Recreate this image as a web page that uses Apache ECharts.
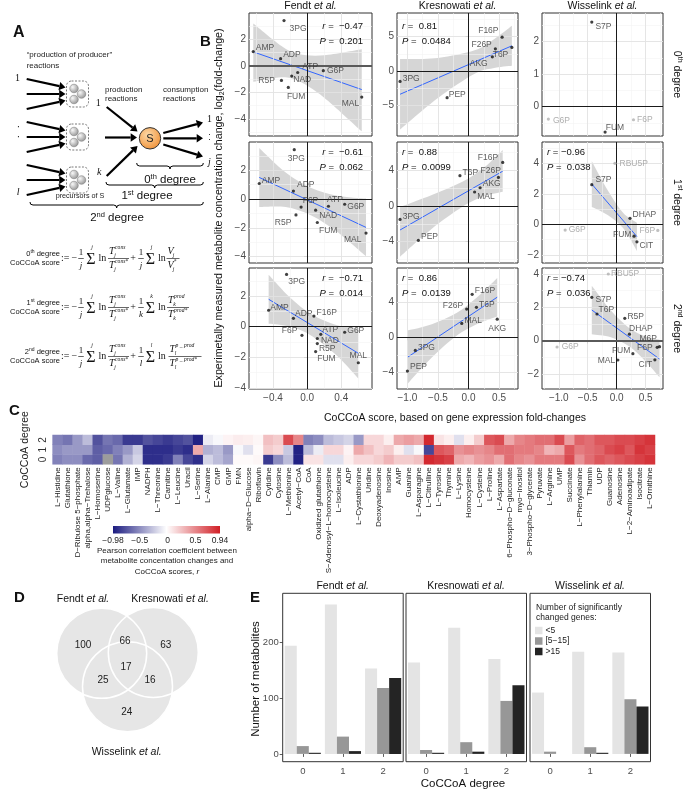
<!DOCTYPE html>
<html><head><meta charset="utf-8">
<script src="https://cdn.jsdelivr.net/npm/echarts@6/dist/echarts.min.js"></script>
<style>html,body{margin:0;padding:0;background:#fff}#c{width:683px;height:793px}</style>
</head><body><div id="c"></div>
<script>
const FONT='"Liberation Sans", Arial, Helvetica, sans-serif';
const SERIF='"Liberation Serif", "DejaVu Serif", serif';

// ---------------- Panel B data ----------------
const studyNames=['Fendt','Kresnowati','Wisselink'];
const degreeNames=['0','1','2'];
const fendtNames=['3PG','AMP','ADP','F6P','F16P','ATP','G6P','NAD','R5P','FUM','MAL'];
const fendtY=[3.43,1.08,0.55,-0.56,0.70,-0.50,-0.36,-0.77,-1.10,-1.63,-2.36];
const fendtX0=[-0.27,-0.63,-0.31,null,null,-0.11,0.19,-0.18,-0.30,-0.22,0.64];
const fendtX1=[-0.15,-0.56,-0.16,-0.07,null,0.25,0.44,0.10,-0.13,0.12,0.69];
const fendtX2=[-0.24,-0.45,-0.16,-0.06,0.08,0.16,0.44,0.12,0.12,0.10,0.60];

const kresNames=['3PG','PEP','AKG','F26P','F16P','T6P','MAL'];
const kresY=[-1.50,-3.85,2.06,3.22,4.90,3.42,1.58];
const kresX0=[-1.12,-0.35,0.39,0.44,0.55,0.71,null];
const kresX1=[-1.12,-0.82,0.19,0.49,0.56,-0.14,0.10];
const kresX2=[-0.87,-1.00,0.47,-0.03,0.06,0.13,-0.11];

const wissNames=['S7P','G6P','FUM','F6P','RBU5P','DHAP','CIT','T6P','R5P','M6P','MAL'];
const wissY=[2.60,-0.38,-0.78,-0.40,4.00,0.39,-1.15,1.60,1.34,-0.36,-1.16];
const wissX0=[-0.43,-1.18,-0.20,0.29,null,null,null,null,null,null,null];
const wissX1=[-0.43,-0.89,0.30,0.71,-0.03,0.23,0.35,null,null,null,null];
const wissX2=[-0.43,-1.03,0.28,0.70,-0.145,0.22,0.66,-0.34,0.14,0.74,0.02];
const wissExcluded=[['G6P','F6P'],['G6P','F6P','RBU5P'],['G6P','RBU5P']];

// regression fits (panel order: row-major)
const fitLines=[
 [[-0.63,1.06],[0.64,-1.79]],
 [[-1.12,-3.36],[0.71,3.65]],
 null,
 [[-0.56,1.5],[0.69,-1.97]],
 [[-1.12,-2.69],[0.56,3.92]],
 [[-0.43,2.64],[0.35,-0.81]],
 [[-0.45,1.8],[0.60,-1.74]],
 [[-1.0,-2.29],[0.47,4.57]],
 [[-0.43,1.84],[0.74,-1.1]]
];
const fitBands=[
 [[-0.63,-1.2,3.2],[-0.3,-0.85,1.5],[-0.1,-1.15,0.9],[0.2,-2.4,0.8],[0.64,-4.95,1.25]],
 [[-1.12,-8.46,1.74],[-0.5,-3.9,1.9],[0.1,-0.4,3.0],[0.4,0.4,4.5],[0.71,0.75,6.55]],
 null,
 [[-0.56,-0.55,3.55],[-0.25,-0.56,1.84],[0.05,-1.14,0.76],[0.35,-2.27,0.23],[0.69,-3.97,0.03]],
 [[-1.12,-5.7,-0.1],[-0.6,-2.55,1.25],[-0.1,-0.08,2.72],[0.25,1.1,4.3],[0.56,1.62,6.3]],
 [[-0.43,1.14,4.14],[-0.15,0.6,2.2],[0.11,-0.25,0.75],[0.35,-1.75,0.1]],
 [[-0.45,0.2,3.4],[-0.2,0.01,1.91],[0.06,-0.62,0.78],[0.35,-1.9,0.1],[0.6,-3.39,-0.09]],
 [[-1.0,-5.34,0.76],[-0.6,-2.32,1.48],[-0.19,0.19,2.79],[0.15,1.53,4.63],[0.47,2.37,6.77]],
 [[-0.43,0.39,3.29],[-0.1,0.21,1.81],[0.22,-0.35,0.75],[0.5,-1.25,0.25],[0.74,-2.2,0.05]]
];
const statR=['−0.47',' 0.81',null,'−0.61',' 0.88','−0.96','−0.71',' 0.86','−0.74'];
const statP=['0.201','0.0484',null,'0.062','0.0099','0.038','0.014','0.0139','0.036'];

const xRange=[[-0.68,0.76],[-1.17,0.81],[-1.29,0.80]];
const xMajor=[[-0.4,0,0.4],[-1,-0.5,0,0.5],[-1,-0.5,0,0.5]];
const xMinor=[[-0.6,-0.2,0.2,0.6],[-0.75,-0.25,0.25,0.75],[-1.25,-0.75,-0.25,0.25,0.75]];
const yRange=[[-5.3,4.0],[-9.4,8.4],[-0.9,2.88],[-4.44,3.96],[-6.4,7.2],[-2.54,5.4],[-4.08,3.85],[-5.9,7.9],[-2.9,4.36]];
const yMajor=[[-4,-2,0,2],[-5,0,5],[0,1,2],[-4,-2,0,2],[-4,0,4],[-2,0,2,4],[-4,-2,0,2],[-4,0,4],[-2,0,2,4]];
const yMinor=[[-5,-3,-1,1,3],[-7.5,-2.5,2.5,7.5],[-0.5,0.5,1.5,2.5],[-3,-1,1,3],[-6,-2,2,6],[-1,1,3,5],[-3,-1,1,3],[-2,2,6],[-1,1,3]];

// ---------------- Panel C data ----------------
const heatNames=['L−Histidine','Glutathione','D−Ribulose 5−phosphate','alpha,alpha−Trehalose','L−Homoserine','UDPglucose','L−Valine','L−Glutamate','IMP','NADPH','L−Threonine','Carnitine','L−Leucine','Uracil','L−Serine','L−Alanine','CMP','GMP','FMN','alpha−D−Glucose','Riboflavin','Cytidine','Cytosine','L−Methionine','Acetyl−CoA','CoA','Oxidized glutathione','S−Adenosyl−L−homocysteine','L−Isoleucine','ADP','L−Cystathionine','Uridine','Deoxyadenosine','Inosine','AMP','Guanine','L−Asparagine','L−Citrulline','L−Tyrosine','Thymine','L−Lysine','Homocysteine','L−Cysteine','L−Proline','L−Aspartate','6−Phospho−D−gluconate','myo−Inositol','3−Phospho−D−glycerate','Pyruvate','L−Arginine','UMP','Succinate','L−Phenylalanine','Thiamin','UDP','Guanosine','Adenosine','L−2−Aminoadipate','Isocitrate','L−Ornithine'];
const heatDeg2=[-0.55,-0.6,-0.45,-0.3,-0.75,-0.6,-0.65,-0.85,-0.85,-0.75,-0.8,-0.85,-0.8,-0.75,-0.95,-0.1,-0.05,0.03,0.06,0.05,0.02,0.25,0.2,0.75,0.5,-0.55,-0.5,-0.3,-0.25,-0.2,-0.45,0.15,0.15,0.05,0.35,0.4,0.35,0.9,0.1,0.05,-0.15,0.05,0.2,0.7,0.75,0.35,0.5,0.55,0.6,0.6,0.75,0.4,0.65,0.6,0.7,0.7,0.75,0.75,0.8,0.85];
const heatDeg1=[-0.5,-0.45,-0.45,-0.45,-0.7,-0.65,-0.55,-0.45,-0.25,-0.9,-0.9,-0.9,-0.85,-0.9,0.35,-0.35,-0.3,-0.45,-0.05,-0.15,0.0,0.2,0.15,-0.25,-0.95,-0.3,-0.1,0.15,0.15,0.03,0.35,0.25,0.15,0.2,0.05,-0.15,-0.05,-0.8,0.7,0.65,0.45,0.5,0.45,0.5,0.6,0.6,0.55,0.55,0.5,0.3,0.35,0.7,0.55,0.6,0.65,0.75,0.8,0.7,0.85,0.8];
const heatDeg0=[-0.55,-0.5,-0.5,-0.65,-0.7,null,-0.6,-0.35,-0.2,-0.9,-0.9,-0.85,-0.55,-0.8,-0.9,-0.2,-0.3,-0.4,0.0,0.0,0.02,-0.85,-0.5,-0.3,-0.95,0.1,0.1,-0.15,-0.15,0.05,0.15,0.15,0.2,0.3,0.2,0.2,0.25,0.9,0.85,0.8,0.35,0.3,0.4,0.45,0.35,0.6,0.5,0.45,0.55,0.55,0.55,0.75,0.45,0.6,0.7,0.65,0.7,0.75,0.8,0.85];
const colorTicks=[-0.98,-0.5,0,0.5,0.94];

// ---------------- Panel D data ----------------
const vennRegions=['F','FK','K','FKW','FW','KW','W'];
const vennValues=[100,66,63,17,25,16,24];

// ---------------- Panel E data ----------------
const barDegrees=['0','1','2'];
const geneBins=['<5','[5−15]','>15'];
const fendtBars=[[194,268,153],[14,31,118],[2,5,136]];
const kresBars=[[164,226,170],[7,21,95],[2,4,123]];
const wissBars=[[110,183,182],[4,12,98],[0,2,85]];

// ---------------- label placement (style, not data) ----------------
const LP={
 '00':{'3PG':['r',3,8],AMP:['r',0,-4],ADP:['r',0,-4],ATP:['r',2,-6],G6P:['r',1,0],NAD:['r',-1,4],R5P:['l',-4,0],FUM:['r',-4,9],MAL:['l',0,7]},
 '01':{'3PG':['r',0,-3],PEP:['r',-1,-3],AKG:['l',-2,7],F26P:['l',-1,-4],F16P:['l',-1,-7],T6P:['l',-1,7]},
 '02':{S7P:['r',1,5],G6P:['r',2,2],FUM:['r',-2,-4],F6P:['r',1,0]},
 '10':{'3PG':['r',-9,9],AMP:['r',0,-3],ADP:['r',1,-6],F6P:['r',-1,-6],ATP:['r',-4,-7],G6P:['r',0,2],NAD:['r',1,6],R5P:['l',-2,8],FUM:['r',-1,8],MAL:['l',-2,7]},
 '11':{'3PG':['r',0,-3],PEP:['r',0,-4],T6P:['r',0,-3],F16P:['l',-2,-5],F26P:['l',5,-7],AKG:['r',0,-4],MAL:['r',0,5]},
 '12':{RBU5P:['r',2,0],S7P:['r',1,-5],DHAP:['r',0,-4],G6P:['r',1,0],FUM:['l',0,-2],F6P:['l',0,0],CIT:['r',0,4]},
 '20':{'3PG':['r',-1,7],AMP:['r',-1,-3],ADP:['r',-1,-5],F16P:['r',0,-3],F6P:['l',-2,-5],ATP:['r',-1,-5],G6P:['r',0,-2],NAD:['r',1,2],R5P:['r',-1,5],FUM:['r',-1,7],MAL:['t',0,0]},
 '21':{'3PG':['r',0,-3],PEP:['r',0,-4],F16P:['r',0,-4],F26P:['l',-1,-3],T6P:['r',0,-3],MAL:['r',0,-3],AKG:['b',0,2]},
 '22':{RBU5P:['r',0,0],S7P:['r',1,2],T6P:['r',-1,-4],R5P:['r',0,-2],DHAP:['r',-3,-6],M6P:['l',0,-8],F6P:['l',-2,0],CIT:['l',0,5],FUM:['l',0,-3],MAL:['l',0,1],G6P:['r',2,0]}
};

const X_FMT=v=>(v<0?'−':'')+Math.abs(v).toFixed(1);
const Y_FMT=v=>(v<0?'−':'')+Math.abs(v);

const grids=[],xAxes=[],yAxes=[],series=[],GR=[];

function T(x,y,text,o){o=o||{};
 GR.push({type:'text',x:x,y:y,rotation:o.rot||0,silent:true,z:50,
  style:{text:text,fill:o.color||'#111',fontSize:o.size||10,fontFamily:o.family||FONT,fontStyle:o.style||'normal',fontWeight:o.weight||'normal',
   textAlign:o.align||'left',textVerticalAlign:o.va||'middle',align:o.align||'left',verticalAlign:o.va||'middle',rich:o.rich}});}

function catmull(pts,start){
 let d=(start?'M':'L')+pts[0][0]+' '+pts[0][1];
 for(let i=0;i<pts.length-1;i++){
  const p0=pts[Math.max(i-1,0)],p1=pts[i],p2=pts[i+1],p3=pts[Math.min(i+2,pts.length-1)];
  const c1=[p1[0]+(p2[0]-p0[0])/6,p1[1]+(p2[1]-p0[1])/6];
  const c2=[p2[0]-(p3[0]-p1[0])/6,p2[1]-(p3[1]-p1[1])/6];
  d+=' C'+c1[0]+' '+c1[1]+' '+c2[0]+' '+c2[1]+' '+p2[0]+' '+p2[1];
 }
 return d;
}

// ---------------- Panel B build ----------------
const colL=[249,397,542],colW=[123,121,121],rowT=[13,142,268],rowH=[123,121,121];
const xsAll=[[fendtX0,fendtX1,fendtX2],[kresX0,kresX1,kresX2],[wissX0,wissX1,wissX2]];
const namesAll=[fendtNames,kresNames,wissNames], ysAll=[fendtY,kresY,wissY];
for(let r=0;r<3;r++)for(let c=0;c<3;c++){
 const i=r*3+c;
 grids.push({left:colL[c],top:rowT[r],width:colW[c],height:rowH[r],show:true,borderColor:'#333',borderWidth:1,backgroundColor:'#fff'});
 xAxes.push({gridIndex:i,type:'value',min:xRange[c][0],max:xRange[c][1],axisLine:{show:false},splitLine:{show:false},
  axisTick:{show:r===2,customValues:xMajor[c],length:3,lineStyle:{color:'#333',width:0.8}},
  axisLabel:{show:r===2,customValues:xMajor[c],formatter:X_FMT,fontSize:10,color:'#4d4d4d',margin:4,fontFamily:FONT}});
 yAxes.push({gridIndex:i,type:'value',min:yRange[i][0],max:yRange[i][1],axisLine:{show:false},splitLine:{show:false},
  axisTick:{show:true,customValues:yMajor[i],length:3,lineStyle:{color:'#333',width:0.8}},
  axisLabel:{show:true,customValues:yMajor[i],formatter:Y_FMT,fontSize:10,color:'#4d4d4d',margin:3,fontFamily:FONT}});
 const gl=[];
 xMinor[c].forEach(v=>gl.push({xAxis:v,lineStyle:{color:'#f3f3f3',width:0.6,type:'solid'}}));
 yMinor[i].forEach(v=>gl.push({yAxis:v,lineStyle:{color:'#f3f3f3',width:0.6,type:'solid'}}));
 xMajor[c].forEach(v=>gl.push({xAxis:v,lineStyle:{color:'#e2e2e2',width:0.9,type:'solid'}}));
 yMajor[i].forEach(v=>gl.push({yAxis:v,lineStyle:{color:'#e2e2e2',width:0.9,type:'solid'}}));
 series.push({type:'line',xAxisIndex:i,yAxisIndex:i,data:[[xRange[c][0],yRange[i][0]]],symbol:'none',lineStyle:{opacity:0},silent:true,z:1,
  markLine:{silent:true,symbol:['none','none'],animation:false,label:{show:false},data:gl}});
 const band=fitBands[i];
 if(band){
  series.push({type:'custom',xAxisIndex:i,yAxisIndex:i,data:band,z:2,silent:true,clip:true,
   renderItem:function(params,api){
    if(params.dataIndex!==0)return null;
    const up=band.map(d=>api.coord([d[0],d[2]]));
    const dn=band.map(d=>api.coord([d[0],d[1]])).reverse();
    return {type:'path',shape:{pathData:catmull(up,true)+' '+catmull(dn,false)+' Z'},style:{fill:'rgba(153,153,153,0.4)',stroke:null}};
   }});
 }
 const heavy=(i===0||i===8);
 series.push({type:'line',xAxisIndex:i,yAxisIndex:i,data:[[xRange[c][0],yRange[i][0]]],symbol:'none',lineStyle:{opacity:0},silent:true,z:3,
  markLine:{silent:true,symbol:['none','none'],animation:false,label:{show:false},
   data:[{xAxis:0,lineStyle:{color:'#1a1a1a',width:1,type:'solid'}},{yAxis:0,lineStyle:{color:heavy?'#5a5a5a':'#1a1a1a',width:heavy?1.8:1,type:'solid'}}]}});
 if(fitLines[i]) series.push({type:'line',xAxisIndex:i,yAxisIndex:i,data:fitLines[i],symbol:'none',lineStyle:{color:'#3366ff',width:1},silent:true,z:4});
 const names=namesAll[c],ys=ysAll[c],xs=xsAll[c][r],excl=c===2?wissExcluded[r]:[],lp=LP[''+r+c];
 const pts=[];
 names.forEach((n,k)=>{ if(xs[k]==null)return; const p=lp[n]||['r',0,0]; const gray=excl.indexOf(n)>=0;
  pts.push({name:n,value:[xs[k],ys[k]],itemStyle:{color:gray?'#b0b0b0':'#111'},
   label:{position:{r:'right',l:'left',t:'top',b:'bottom'}[p[0]],offset:[p[1],p[2]],color:gray?'#9a9a9a':'#333'}});});
 series.push({type:'scatter',xAxisIndex:i,yAxisIndex:i,data:pts,symbolSize:3.2,z:5,silent:true,
  label:{show:true,formatter:'{b}',fontSize:8.5,fontFamily:FONT,distance:1}});
 if(statR[i]){
  const dy1=r===0?13:10.5, dy2=r===0?28.5:25;
  const rich={i:{fontStyle:'italic',fontSize:9.5,fontFamily:FONT,color:'#222'},n:{fontSize:9.5,fontFamily:FONT,color:'#222'}};
  if(c===0){
   T(colL[c]+colW[c]-9,rowT[r]+dy1,'{i|r}{n| =  '+statR[i]+'}',{align:'right',rich});
   T(colL[c]+colW[c]-9,rowT[r]+dy2,'{i|P}{n| =  '+statP[i]+'}',{align:'right',rich});
  } else {
   T(colL[c]+5,rowT[r]+dy1,'{i|r}{n| = '+statR[i]+'}',{rich});
   T(colL[c]+5,rowT[r]+dy2,'{i|P}{n| =  '+statP[i]+'}',{rich});
  }
 }
}
const etal={i:{fontStyle:'italic',fontSize:10.5,fontFamily:FONT,color:'#111'},n:{fontSize:10.5,fontFamily:FONT,color:'#111'}};
studyNames.forEach((s,c)=>T(colL[c]+colW[c]/2,6.5,'{n|'+s+' }{i|et al.}',{align:'center',rich:etal}));
const sups=['th','st','nd'];
degreeNames.forEach((d,r)=>T(677,rowT[r]+rowH[r]/2,'{n|'+d+'}{s|'+sups[r]+'}{n| degree}',{align:'center',rot:-Math.PI/2,
 rich:{n:{fontSize:10.5,fontFamily:FONT,color:'#222',lineHeight:13},s:{fontSize:7,fontFamily:FONT,color:'#222',verticalAlign:'top',lineHeight:13}}}));
T(219,208,'{n|Experimetally measured metabolite concentration change, log}{s|2}{n|(fold-change)}',{align:'center',rot:Math.PI/2,
 rich:{n:{fontSize:10.7,fontFamily:FONT,color:'#111',lineHeight:13},s:{fontSize:7,fontFamily:FONT,color:'#111',verticalAlign:'bottom',lineHeight:13}}});
T(455,418,'CoCCoA score, based on gene expression fold-changes',{align:'center',size:10.5});
T(200,42,'B',{size:15,weight:'bold'});

// ---------------- Panel C build ----------------
const gC=grids.length;
grids.push({left:52.6,top:435,width:602.4,height:29.3});
xAxes.push({gridIndex:gC,type:'category',data:heatNames,axisLine:{show:false},axisTick:{show:false},splitLine:{show:false},
 axisLabel:{interval:0,rotate:90,fontSize:8,color:'#222',margin:3,fontFamily:FONT}});
yAxes.push({gridIndex:gC,type:'category',data:degreeNames,axisLine:{show:false},axisTick:{show:false},splitLine:{show:false},
 axisLabel:{rotate:90,fontSize:10,color:'#333',margin:4,fontFamily:FONT},
 name:'CoCCoA degree',nameLocation:'middle',nameRotate:90,nameGap:22,nameTextStyle:{fontSize:10.5,color:'#222',fontFamily:FONT}});
const heatData=[],naData=[];
[heatDeg0,heatDeg1,heatDeg2].forEach((arr,d)=>arr.forEach((v,k)=>{ if(v==null)naData.push([k,d,0]); else heatData.push([k,d,v]); }));
series.push({type:'heatmap',xAxisIndex:gC,yAxisIndex:gC,data:heatData,silent:true});
const heatIdx=series.length-1;
series.push({type:'heatmap',xAxisIndex:gC,yAxisIndex:gC,data:naData,itemStyle:{color:'#9c9c9c'},silent:true});
const cbX=113,cbW=107,cbY=526;
GR.push({type:'rect',shape:{x:cbX,y:cbY,width:cbW,height:7.5},silent:true,z:40,
 style:{fill:{type:'linear',x:0,y:0,x2:1,y2:0,colorStops:[{offset:0,color:'#1b1b80'},{offset:0.5,color:'#ffffff'},{offset:1,color:'#d11f26'}]}}});
colorTicks.forEach(v=>T(cbX+(v+0.98)/1.92*cbW,541,(v<0?'−':'')+Math.abs(v),{align:'center',size:8.5,color:'#222'}));
T(167,551,'Pearson correlation coefficient between',{align:'center',size:8,color:'#222'});
T(167,561,'metabolite concentation changes and',{align:'center',size:8,color:'#222'});
T(167,571.5,'{n|CoCCoA scores, }{i|r}',{align:'center',rich:{n:{fontSize:8,fontFamily:FONT,color:'#222'},i:{fontSize:8,fontStyle:'italic',fontFamily:FONT,color:'#222'}}});
T(9,411,'C',{size:15,weight:'bold'});

// ---------------- Panel E build ----------------
const eL=[282.7,406,530],barColors=['#e4e4e4','#979797','#242424'];
const barSets=[fendtBars,kresBars,wissBars];
for(let g=0;g<3;g++){
 const gi=grids.length;
 grids.push({left:eL[g],top:593.3,width:120.5,height:168.4,show:true,borderColor:'#333',borderWidth:1,backgroundColor:'#fff'});
 xAxes.push({gridIndex:gi,type:'category',data:barDegrees,axisLine:{show:false},splitLine:{show:false},
  axisTick:{show:true,alignWithLabel:true,length:3,lineStyle:{color:'#333',width:0.8}},
  axisLabel:{fontSize:9.5,color:'#4d4d4d',margin:5,fontFamily:FONT}});
 yAxes.push({gridIndex:gi,type:'value',min:-14,max:288,axisLine:{show:false},splitLine:{show:false},
  axisTick:{show:g===0,customValues:[0,100,200],length:3,lineStyle:{color:'#333',width:0.8}},
  axisLabel:{show:g===0,customValues:[0,100,200],fontSize:9.5,color:'#4d4d4d',margin:4,fontFamily:FONT}});
 geneBins.forEach((b,k)=>series.push({type:'bar',name:b,xAxisIndex:gi,yAxisIndex:gi,data:barSets[g][k],
  itemStyle:{color:barColors[k]},barGap:'0%',barCategoryGap:'10%',silent:true}));
 T(eL[g]+60,586,'{n|'+studyNames[g]+' }{i|et al.}',{align:'center',rich:etal});
}
T(463,784,'CoCCoA degree',{align:'center',size:11.5});
T(256,679,'Number of metabolites',{align:'center',size:11.5,rot:Math.PI/2});
T(536,608,'Number of significantly',{size:8.5,color:'#222'});
T(536,618,'changed genes:',{size:8.5,color:'#222'});
T(250,598,'E',{size:15,weight:'bold'});

// ---------------- Panel D (Venn) ----------------
const vc=[[101.7,653.3],[153.3,652.5],[127.5,686.7]],vr=45;
vc.forEach(p=>GR.push({type:'circle',shape:{cx:p[0],cy:p[1],r:vr},style:{fill:'#e6e6e6'},silent:true,z:10}));
vc.forEach(p=>GR.push({type:'circle',shape:{cx:p[0],cy:p[1],r:vr},style:{fill:null,stroke:'#fff',lineWidth:1.5},silent:true,z:11}));
const vennPos={F:[83,645],FK:[125,641],K:[165.7,645],FKW:[126,667],FW:[103,680.7],KW:[150,680.7],W:[126.7,712.7]};
vennRegions.forEach((k,i)=>T(vennPos[k][0],vennPos[k][1],String(vennValues[i]),{align:'center',size:10,color:'#222'}));
T(83,599,'{n|Fendt }{i|et al.}',{align:'center',rich:etal});
T(170,599,'{n|Kresnowati }{i|et al.}',{align:'center',rich:etal});
T(126.7,752,'{n|Wisselink }{i|et al.}',{align:'center',rich:etal});
T(14,598,'D',{size:15,weight:'bold'});

// ---------------- Panel A (schematic) ----------------
function arrow(x1,y1,x2,y2,w,head){w=w||2.2;head=head||4.2;
 const a=Math.atan2(y2-y1,x2-x1),bx=x2-head*1.5*Math.cos(a),by=y2-head*1.5*Math.sin(a);
 GR.push({type:'line',shape:{x1:x1,y1:y1,x2:bx,y2:by},style:{stroke:'#000',lineWidth:w},silent:true,z:20});
 const px=Math.sin(a)*head,py=-Math.cos(a)*head;
 GR.push({type:'polygon',shape:{points:[[x2,y2],[bx+px,by+py],[bx-px,by-py]]},style:{fill:'#000'},silent:true,z:20});}
function brace(x1,x2,y,h){h=h||3;const m=(x1+x2)/2;
 GR.push({type:'polyline',shape:{points:[[x1,y-h],[x1+0.6,y-0.8],[x1+h,y],[m-h,y],[m-0.6,y+0.8],[m,y+h],[m+0.6,y+0.8],[m+h,y],[x2-h,y],[x2-0.6,y-0.8],[x2,y-h]]},
  style:{stroke:'#000',fill:null,lineWidth:1},silent:true,z:20});}
T(13,33,'A',{size:16,weight:'bold'});
T(26.7,55,'“production of producer”',{size:8,color:'#222'});
T(26.7,65.5,'reactions',{size:8,color:'#222'});
[94,137,180].forEach((cy,g)=>{
 GR.push({type:'rect',shape:{x:66.5,y:cy-13,width:22,height:26,r:5},style:{fill:null,stroke:'#555',lineWidth:0.8,lineDash:[2,1.5]},silent:true,z:20});
 [[-3.5,-5.5],[4,0],[-3.5,5.5]].forEach(o=>GR.push({type:'circle',shape:{cx:77.5+o[0],cy:cy+o[1],r:4.3},
  style:{fill:{type:'radial',x:0.35,y:0.35,r:0.75,colorStops:[{offset:0,color:'#f8f8f8'},{offset:1,color:'#8c8c8c'}]},stroke:'#777',lineWidth:0.5},silent:true,z:21}));
 arrow(26.7,cy-15,65.5,cy-6.5);arrow(26.7,cy,65.5,cy);arrow(26.7,cy+15,65.5,cy+6.5);
});
T(15,78,'1',{family:SERIF,size:10});
T(16.7,127,'·',{size:10});T(16.7,137,'·',{size:10});
T(16.7,192,'l',{family:SERIF,style:'italic',size:10});
T(105,89.3,'production',{size:8,color:'#222'});T(105,98.3,'reactions',{size:8,color:'#222'});
T(163,89.3,'consumption',{size:8,color:'#222'});T(163,98.3,'reactions',{size:8,color:'#222'});
T(98.3,103.5,'1',{family:SERIF,size:10,align:'center'});
T(99.3,172.5,'k',{family:SERIF,style:'italic',size:10,align:'center'});
arrow(106.7,107,137.5,131.5);arrow(105,137.5,137,137.5);arrow(106.7,176,137.5,146);
GR.push({type:'circle',shape:{cx:150,cy:138.3,r:10.7},style:{fill:{type:'radial',x:0.4,y:0.35,r:0.8,colorStops:[{offset:0,color:'#fcd9a8'},{offset:1,color:'#ee8626'}]},stroke:'#333',lineWidth:1},silent:true,z:21});
T(150,139,'S',{size:11,align:'center',color:'#222'});
arrow(163.3,133,203,122.5);arrow(163.3,138.3,203,138.3);arrow(163.3,144.5,203,156.5);
T(209.5,119.3,'1',{family:SERIF,size:10,align:'center'});
T(209.5,135,'·',{size:9,align:'center'});T(209.5,140,'·',{size:9,align:'center'});
T(209.5,162,'j',{family:SERIF,style:'italic',size:10,align:'center'});
brace(136.7,203.3,166);brace(106,203.3,185);brace(30,203.3,205);
const degRich={n:{fontSize:11.5,fontFamily:FONT,color:'#111',lineHeight:14},s:{fontSize:7.5,fontFamily:FONT,color:'#111',verticalAlign:'top',lineHeight:14}};
T(170,180,'{n|0}{s|th}{n| degree}',{align:'center',rich:degRich});
T(147,196,'{n|1}{s|st}{n| degree}',{align:'center',rich:degRich});
T(80,196.5,'precursors of S',{align:'center',size:7.2,color:'#222'});
T(117,218,'{n|2}{s|nd}{n| degree}',{align:'center',rich:degRich});

function ser(x,y,t,o){o=o||{};T(x,y,t,{family:SERIF,size:o.size||10,style:o.it?'italic':'normal',align:o.align||'left'});}
function sym(xl,yc,base,sup,sub){ser(xl,yc,base,{it:true,size:10});const bw=base.length*5.9;
 if(sup)ser(xl+bw+0.2,yc-3.8,sup,{it:true,size:5.6});if(sub)ser(xl+bw-0.6,yc+4,sub,{it:true,size:5.6});}
function bar(cx,y,w){GR.push({type:'line',shape:{x1:cx-w/2,y1:y,x2:cx+w/2,y2:y},style:{stroke:'#000',lineWidth:0.6},silent:true,z:20});}
function fracText(cx,y0,n,d){ser(cx,y0-6.3,n,{align:'center',size:9});bar(cx,y0,5.5);ser(cx,y0+6.8,d,{align:'center',it:true,size:9});}
function fracSym(cx,y0,w,num,den){sym(cx-w/2+1,y0-6.8,num[0],num[1],num[2]);bar(cx,y0,w);sym(cx-w/2+1,y0+7.3,den[0],den[1],den[2]);}
function sigma(cx,y0,top){ser(cx,y0+1,'Σ',{align:'center',size:16});ser(cx+1,y0-11,top,{align:'center',it:true,size:5.8});}
function formula(y0,k,last){
 ser(61,y0,':=');ser(71.5,y0,'−');fracText(81,y0,'1','j');sigma(91,y0,'j');ser(98.5,y0,'ln');
 fracSym(118.5,y0,21,['T','cons','j'],['T','cons*','j']);ser(133,y0,'+',{align:'center'});
 fracText(141,y0,'1',k);sigma(150.5,y0,k);ser(158,y0,'ln');
 fracSym(last[0],y0,last[1],last[2],last[3]);}
const degLbl={n:{fontSize:7.5,fontFamily:FONT,color:'#111',lineHeight:10},s:{fontSize:5,fontFamily:FONT,color:'#111',verticalAlign:'top',lineHeight:10}};
T(60,254,'{n|0}{s|th}{n| degree}',{align:'right',rich:degLbl});T(60,263,'CoCCoA score',{align:'right',size:7.5});
formula(258.5,'j',[173,13,['V','','j'],['V','*','j']]);
T(60,303,'{n|1}{s|st}{n| degree}',{align:'right',rich:degLbl});T(60,312,'CoCCoA score',{align:'right',size:7.5});
formula(307.5,'k',[178,22,['T','prod','k'],['T','prod*','k']]);
T(60,352,'{n|2}{s|nd}{n| degree}',{align:'right',rich:degLbl});T(60,361,'CoCCoA score',{align:'right',size:7.5});
formula(356.5,'l',[185,33,['T','p _ prod','l'],['T','p _ prod*','l']]);

const chart=echarts.init(document.getElementById('c'));
chart.setOption({
 animation:false,backgroundColor:'#fff',textStyle:{fontFamily:FONT},
 grid:grids,xAxis:xAxes,yAxis:yAxes,series:series,
 visualMap:[{type:'continuous',show:false,min:-0.98,max:0.94,seriesIndex:heatIdx,dimension:2,inRange:{color:['#1b1b80','#ffffff','#d11f26']}}],
 legend:{left:535,top:626,orient:'vertical',padding:0,itemWidth:7.5,itemHeight:7.5,itemGap:1.5,icon:'rect',selectedMode:false,
  textStyle:{fontSize:8.5,color:'#222',fontFamily:FONT,padding:[0,0,0,-2]},data:geneBins},
 graphic:GR
});
</script></body></html>
